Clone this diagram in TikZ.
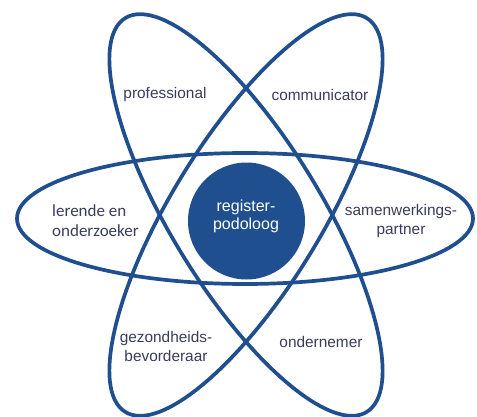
\documentclass[tikz,border=0pt]{standalone}
\usepackage{fontspec}
\setmainfont{Liberation Sans}
\newfontfamily\calfont{Carlito}
\definecolor{orbitblue}{RGB}{31,79,143}
\definecolor{labelink}{RGB}{58,60,92}
\begin{document}
\begin{tikzpicture}[x=1pt,y=1pt,
  orbit/.style={draw=orbitblue,line width=3.7pt},
  role/.style={text=labelink,font=\fontsize{15.4}{19}\selectfont,align=center,inner sep=0pt},
  corebox/.style={circle,fill=orbitblue,minimum size=117pt,inner sep=0pt}]
\useasboundingbox (0,0) rectangle (477,416);
% centres of the three orbits and of the core
\coordinate (hc) at (245,197.5);
\coordinate (tc) at (246,201);
% horizontal orbit and the two tilted ones
\draw[orbit] (hc) ellipse [x radius=228pt,y radius=65.5pt];
\draw[orbit,rotate around={-58.5:(tc)}] (tc) ellipse [x radius=231pt,y radius=75pt];
\draw[orbit,rotate around={58.5:(tc)}] (tc) ellipse [x radius=231pt,y radius=75pt];
% core
\node[corebox] (core) at (246.5,195) {};
\node[text=white,font=\fontsize{16}{18}\selectfont,align=center,inner sep=0pt] (coretext) at (246,200) {register-\\podoloog};
% roles
\node[role] (prof) at (165,321) {professional};
\node[role] (comm) at (320,321) {communicator};
\node[role,anchor=west,align=left,font=\calfont\fontsize{17}{20}\selectfont] (lerend) at (52,195) {lerende en\\onderzoeker};
\node[role] (samen) at (401,195) {samenwerkings-\\partner};
\node[role] (gezond) at (166,70) {gezondheids-\\bevorderaar};
\node[role] (onder) at (321,74) {ondernemer};
\end{tikzpicture}
\end{document}
